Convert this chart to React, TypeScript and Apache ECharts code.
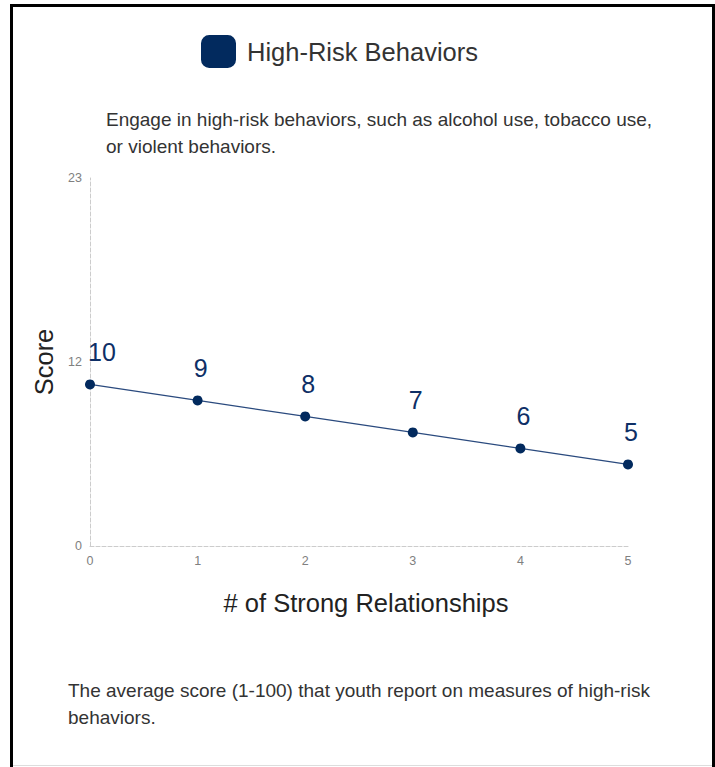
import React, { useEffect, useRef } from "react";
import * as echarts from "echarts";

const seriesName = "High-Risk Behaviors";
const relationships = [0, 1, 2, 3, 4, 5];
const scores = [10.1, 9.1, 8.1, 7.1, 6.1, 5.1];
const yMin = 0;
const yMax = 23;
const yInterval = 11.5;
const description = [
  "Engage in high-risk behaviors, such as alcohol use, tobacco use,",
  "or violent behaviors.",
];
const footer = [
  "The average score (1-100) that youth report on measures of high-risk",
  "behaviors.",
];
const xAxisName = "# of Strong Relationships";
const yAxisName = "Score";

const FONT = "Arial";
const NAVY = "#022a5e";

export default function App() {
  const ref = useRef<HTMLDivElement>(null);
  useEffect(() => {
    if (!ref.current) return;
    const chart = echarts.init(ref.current, undefined, { renderer: "svg" });
    chart.setOption({
      animation: false,
      textStyle: { fontFamily: FONT },
      legend: {
        left: 201,
        top: 35,
        padding: 0,
        itemWidth: 35,
        itemHeight: 33,
        itemGap: 10,
        icon: "roundRect",
        textStyle: { fontSize: 25.5, color: "#333", fontFamily: FONT, padding: [0, 0, 0, 6] },
        data: [seriesName],
      },
      grid: { left: 90, right: 87, top: 178, bottom: 221 },
      xAxis: {
        type: "value",
        min: 0,
        max: 5,
        interval: 1,
        name: xAxisName,
        nameLocation: "middle",
        nameGap: 44,
        nameTextStyle: {
          fontSize: 25.5,
          color: "#222",
          fontFamily: FONT,
          padding: [0, 0, 0, 14],
        },
        axisLine: { show: true, lineStyle: { color: "#ccc", type: "dashed", width: 1 } },
        axisTick: { show: false },
        splitLine: { show: false },
        axisLabel: { color: "#808080", fontSize: 12.5, margin: 8, fontFamily: FONT },
      },
      yAxis: {
        type: "value",
        min: yMin,
        max: yMax,
        interval: yInterval,
        name: yAxisName,
        nameLocation: "middle",
        nameGap: 33,
        nameRotate: 90,
        nameTextStyle: { fontSize: 25.5, color: "#222", fontFamily: FONT },
        axisLine: { show: true, lineStyle: { color: "#ccc", type: "dashed", width: 1 } },
        axisTick: { show: false },
        splitLine: { show: false },
        axisLabel: {
          color: "#808080",
          fontSize: 12.5,
          margin: 8,
          fontFamily: FONT,
          formatter: (v: number) => String(Math.round(v)),
        },
      },
      series: [
        {
          name: seriesName,
          type: "line",
          data: relationships.map((x, i) => ({
            value: [x, scores[i]],
            label: { offset: [i === 0 ? 12 : 3, 0] },
          })),
          symbol: "circle",
          symbolSize: 10,
          itemStyle: { color: NAVY },
          lineStyle: { color: "#2a4a7e", width: 1.2 },
          label: {
            show: true,
            position: "top",
            distance: 15,
            fontSize: 25,
            color: "#0e2f66",
            fontFamily: FONT,
            formatter: (p: any) => String(Math.round(p.value[1])),
          },
        },
      ],
      graphic: [
        {
          type: "rect",
          silent: true,
          shape: { x: 11.5, y: 5.5, width: 702, height: 900 },
          style: { fill: "none", stroke: "#000", lineWidth: 3 },
        },
        {
          type: "line",
          silent: true,
          shape: { x1: 13, y1: 765.5, x2: 712, y2: 765.5 },
          style: { stroke: "#ddd", lineWidth: 1 },
        },
        {
          type: "text",
          left: 106,
          top: 106,
          style: {
            text: description.join("\n"),
            fontSize: 19,
            lineHeight: 27,
            fill: "#333",
            fontFamily: FONT,
          },
        },
        {
          type: "text",
          left: 68,
          top: 677,
          style: {
            text: footer.join("\n"),
            fontSize: 19,
            lineHeight: 27,
            fill: "#333",
            fontFamily: FONT,
          },
        },
      ],
    });
    return () => chart.dispose();
  }, []);
  return (
    <div
      ref={ref}
      style={{ position: "fixed", left: 0, top: 0, width: 715, height: 767, background: "#fff" }}
    />
  );
}
